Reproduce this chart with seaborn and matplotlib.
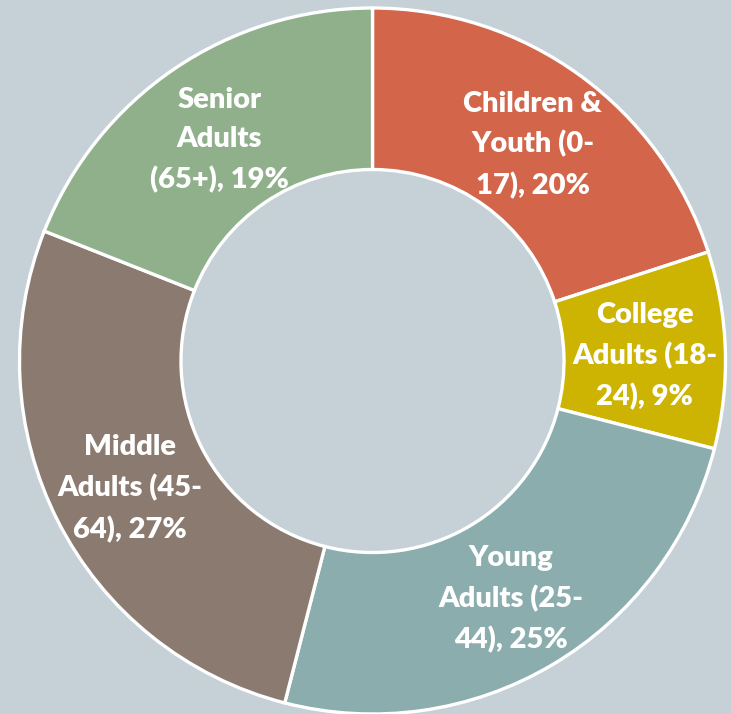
import matplotlib
matplotlib.use("Agg")
import matplotlib.pyplot as plt
import seaborn as sns
import numpy as np

# Age-group shares
categories = ["Children &\nYouth (0-\n17)", "College\nAdults (18-\n24)", "Young\nAdults (25-\n44)",
              "Middle\nAdults (45-\n64)", "Senior\nAdults\n(65+)"]
shares = [20, 9, 25, 27, 19]
colors = ["#D2654A", "#CDB402", "#8BADAD", "#8B7A6F", "#8FB08B"]
background = "#C5D0D7"

sns.set_theme(style="white")
plt.rcParams["font.family"] = ["Lato", "DejaVu Sans"]

W, H = 731, 714
fig = plt.figure(figsize=(W / 100, H / 100), dpi=100, facecolor=background)
ax = fig.add_axes([0, 0, 1, 1])
ax.set_facecolor(background)

cx, cy = 372.5, H - 361
r_out, r_in = 353, 191.5

wedges, _ = ax.pie(shares, colors=colors, startangle=90, counterclock=False,
                   center=(cx, cy), radius=r_out,
                   wedgeprops=dict(width=r_out - r_in, edgecolor="white", linewidth=2.4))

r_lab = (r_out + r_in) / 2
for w, name, val in zip(wedges, categories, shares):
    mid = np.deg2rad((w.theta1 + w.theta2) / 2)
    x = cx + r_lab * np.cos(mid)
    y = cy + r_lab * np.sin(mid) - 4
    ax.text(x, y, f"{name}, {val}%", ha="center", va="center", color="white",
            fontsize=21, fontweight="heavy", linespacing=1.62)

ax.set_xlim(0, W)
ax.set_ylim(0, H)
ax.set_aspect("equal")
ax.axis("off")

fig.savefig("out.png", dpi=100, facecolor=background)
